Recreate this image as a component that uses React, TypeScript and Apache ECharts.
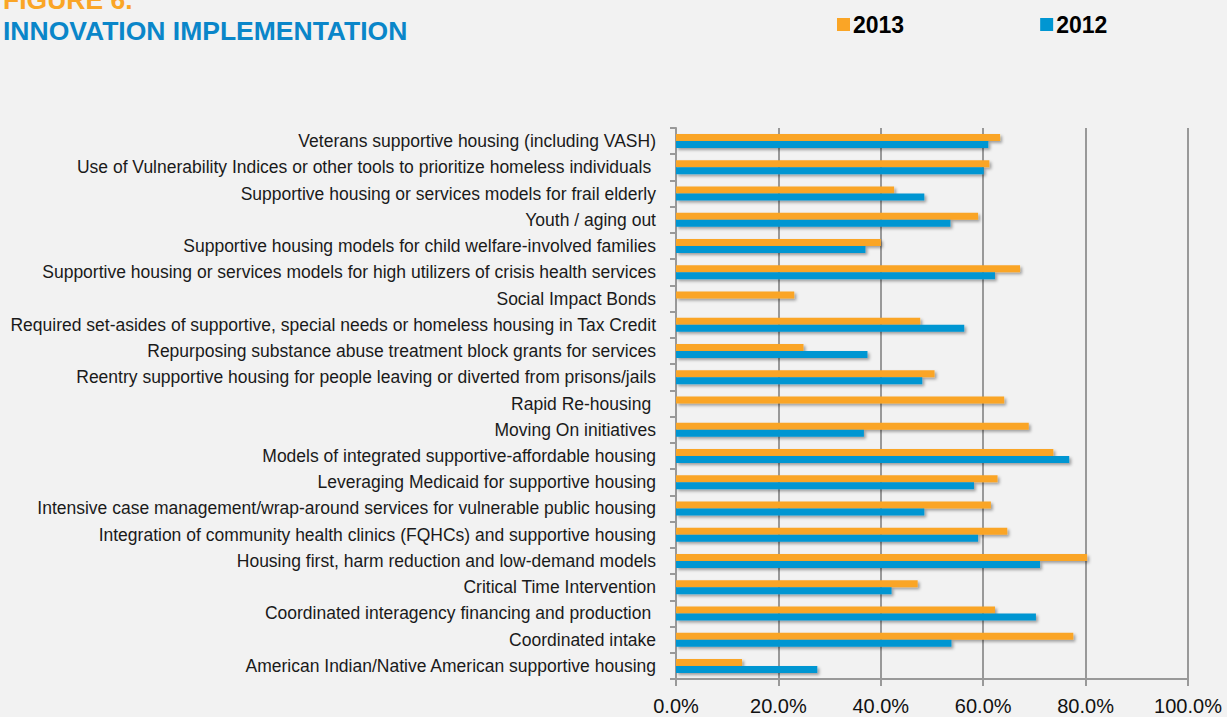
import React, { useEffect, useRef } from "react";
import * as echarts from "echarts";

const categories = [
  "Veterans supportive housing (including VASH)",
  "Use of Vulnerability Indices or other tools to prioritize homeless individuals ",
  "Supportive housing or services models for frail elderly",
  "Youth / aging out",
  "Supportive housing models for child welfare-involved families",
  "Supportive housing or services models for high utilizers of crisis health services",
  "Social Impact Bonds",
  "Required set-asides of supportive, special needs or homeless housing in Tax Credit",
  "Repurposing substance abuse treatment block grants for services",
  "Reentry supportive housing for people leaving or diverted from prisons/jails",
  "Rapid Re-housing ",
  "Moving On initiatives",
  "Models of integrated supportive-affordable housing",
  "Leveraging Medicaid for supportive housing",
  "Intensive case management/wrap-around services for vulnerable public housing",
  "Integration of community health clinics (FQHCs) and supportive housing",
  "Housing first, harm reduction and low-demand models",
  "Critical Time Intervention",
  "Coordinated interagency financing and production ",
  "Coordinated intake",
  "American Indian/Native American supportive housing",
];

const values2013 = [
  63.3, 61.2, 42.6, 59.0, 40.0, 67.2, 23.1, 47.7, 24.9, 50.5, 64.1, 68.9,
  73.7, 62.8, 61.5, 64.7, 80.3, 47.2, 62.3, 77.6, 12.9,
];

const values2012: (number | null)[] = [
  61.0, 60.1, 48.5, 53.6, 37.0, 62.3, null, 56.3, 37.4, 48.1, null, 36.7,
  76.8, 58.2, 48.5, 59.0, 71.1, 42.1, 70.3, 53.8, 27.6,
];

const xTicks = [0, 20, 40, 60, 80, 100];

const ORANGE = "#FAA526";
const BLUE = "#0096D2";

export default function App() {
  const ref = useRef<HTMLDivElement>(null);
  useEffect(() => {
    if (!ref.current) return;
    const chart = echarts.init(ref.current, undefined, { renderer: "svg" });
    const shadow = {
      shadowBlur: 3,
      shadowColor: "rgba(0,0,0,0.35)",
      shadowOffsetX: 2,
      shadowOffsetY: 2,
    };
    chart.setOption({
      animation: false,
      backgroundColor: "#F2F2F2",
      graphic: [
        {
          type: "text",
          left: 3,
          top: -14,
          style: {
            text: "FIGURE 6.",
            fill: ORANGE,
            font: "bold 26.5px 'Liberation Sans', Arial, sans-serif",
          },
        },
        {
          type: "text",
          left: 3,
          top: 17,
          style: {
            text: "INNOVATION IMPLEMENTATION",
            fill: "#0A86C9",
            font: "bold 26.5px 'Liberation Sans', Arial, sans-serif",
          },
        },
      ],
      legend: {
        data: ["2013", "2012"],
        left: 832,
        top: 8,
        itemWidth: 13,
        itemHeight: 13,
        itemGap: 136,
        icon: "rect",
        textStyle: {
          color: "#000",
          fontWeight: "bold",
          fontSize: 23,
          fontFamily: "'Liberation Sans', Arial, sans-serif",
          padding: [4, 0, 0, -2],
        },
      },
      grid: {
        left: 676,
        right: 39,
        top: 128,
        bottom: 38,
        containLabel: false,
      },
      xAxis: {
        type: "value",
        min: 0,
        max: 100,
        interval: 20,
        axisLine: { show: true, lineStyle: { color: "#999", width: 2 } },
        axisTick: { show: true, length: 7, lineStyle: { color: "#999", width: 2 } },
        splitLine: { show: true, lineStyle: { color: "#999", width: 2 } },
        axisLabel: {
          color: "#111",
          fontSize: 20,
          fontFamily: "'Liberation Sans', Arial, sans-serif",
          margin: 17,
          formatter: (v: number) => (xTicks.includes(v) ? v.toFixed(1) + "%" : ""),
        },
      },
      yAxis: {
        type: "category",
        data: categories,
        inverse: true,
        axisLine: { show: true, lineStyle: { color: "#999", width: 2 } },
        axisTick: { show: true, length: 6, lineStyle: { color: "#999", width: 2 } },
        axisLabel: {
          color: "#1a1a1a",
          fontSize: 17.5,
          fontFamily: "'Liberation Sans Narrow', 'Arial Narrow', 'Liberation Sans', sans-serif",
          margin: 20,
        },
      },
      series: [
        {
          name: "2013",
          type: "bar",
          data: values2013,
          barWidth: 7,
          barGap: "0%",
          itemStyle: { color: ORANGE, ...shadow },
        },
        {
          name: "2012",
          type: "bar",
          data: values2012,
          barWidth: 7,
          barGap: "0%",
          itemStyle: { color: BLUE, ...shadow },
        },
      ],
    });
    return () => chart.dispose();
  }, []);
  return <div ref={ref} style={{ width: 1227, height: 717, position: "absolute", left: 0, top: 0 }} />;
}
